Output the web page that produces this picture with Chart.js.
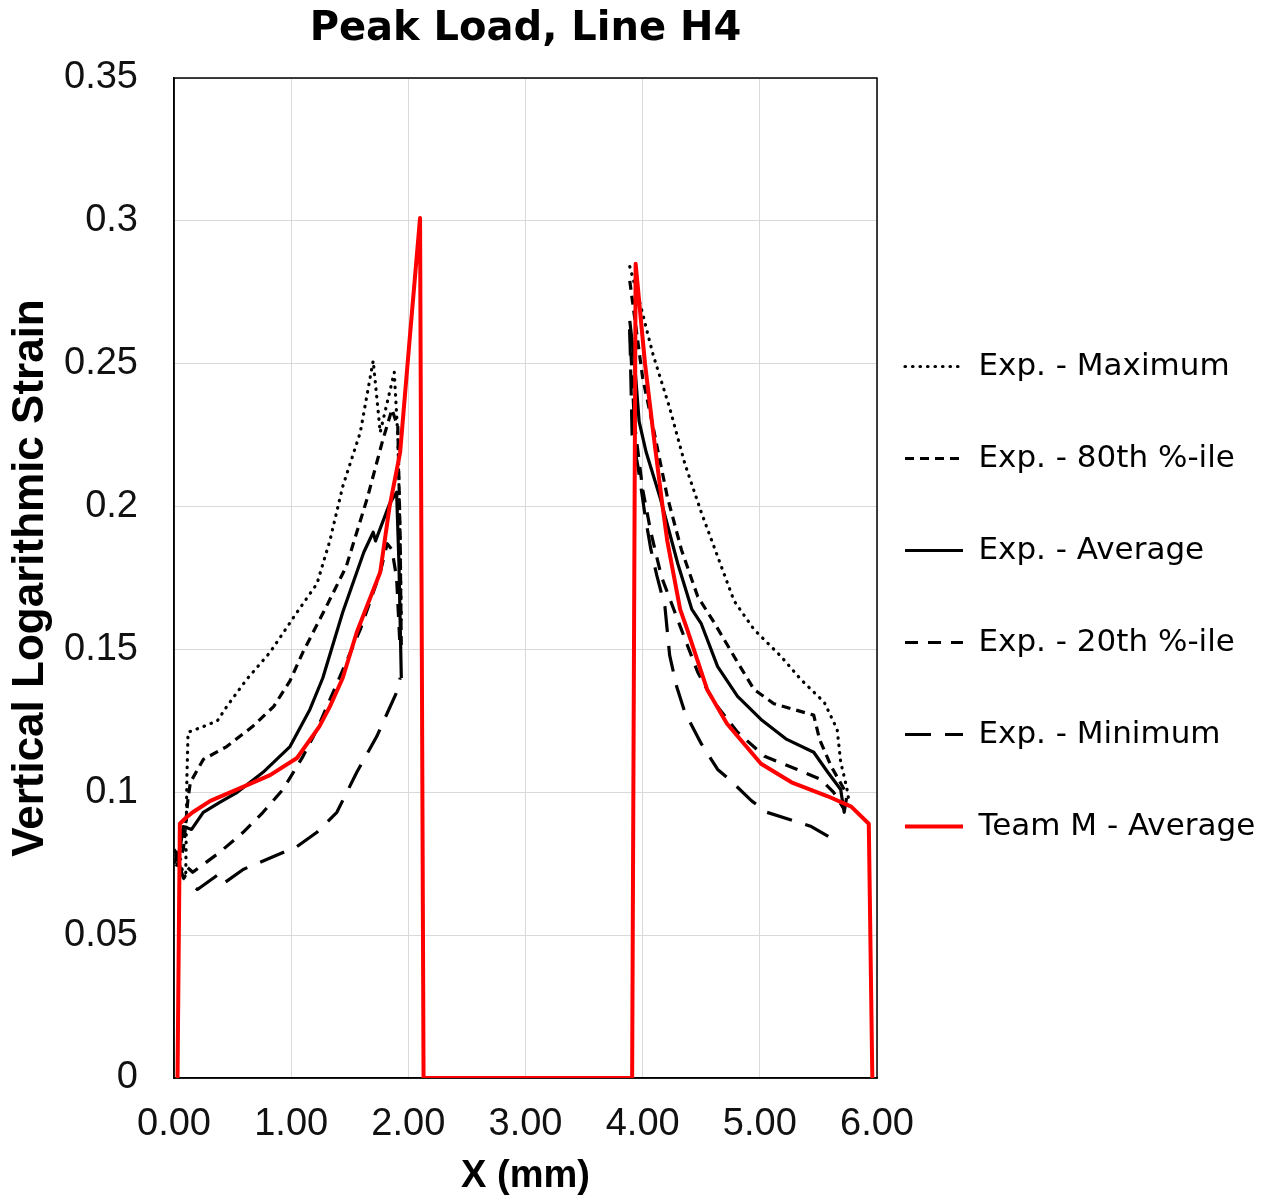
<!DOCTYPE html>
<html>
<head>
<meta charset="utf-8">
<style>
  html, body { margin: 0; padding: 0; background: #ffffff; }
  canvas { display: block; }
</style>
<script src="https://cdn.jsdelivr.net/npm/chart.js@4/dist/chart.umd.min.js"></script>
</head>
<body>
<canvas id="c" width="1266" height="1201"></canvas>
<script>
// ---- Data ----
const chartTitle = 'Peak Load, Line H4';
const xAxisTitle = 'X (mm)';
const yAxisTitle = 'Vertical Logarithmic Strain';
const xTickLabels = ['0.00', '1.00', '2.00', '3.00', '4.00', '5.00', '6.00'];
const yTickLabels = ['0', '0.05', '0.1', '0.15', '0.2', '0.25', '0.3', '0.35'];
const seriesNames = ['Exp. - Maximum', 'Exp. - 80th %-ile', 'Exp. - Average', 'Exp. - 20th %-ile', 'Exp. - Minimum', 'Team M - Average'];

// Exp. - Maximum (gap between the two sides marked by null)
const maxX = [0.02, 0.10, 0.11, 0.12, 0.25, 0.37, 0.45, 0.62, 0.82, 1.05, 1.22, 1.33, 1.44, 1.59, 1.70, 1.76, 1.88, 1.91, 1.93, 1.94,
              3.0,
              3.89, 3.98, 4.09, 4.23, 4.36, 4.50, 4.64, 4.78, 4.95, 5.18, 5.35, 5.55, 5.66, 5.69, 5.74, 5.76];
const maxY = [0.078, 0.070, 0.105, 0.121, 0.123, 0.125, 0.130, 0.1395, 0.149, 0.163, 0.173, 0.188, 0.207, 0.226, 0.251, 0.226, 0.247, 0.225, 0.19, 0.16,
              null,
              0.284, 0.2706, 0.253, 0.2346, 0.215, 0.198, 0.1825, 0.167, 0.157, 0.1476, 0.1395, 0.1315, 0.122, 0.1105, 0.102, 0.097];

// Exp. - 80th %-ile
const p80X = [0.02, 0.08, 0.12, 0.14, 0.25, 0.45, 0.67, 0.85, 0.99, 1.10, 1.30, 1.47, 1.65, 1.78, 1.86, 1.91, 1.93, 1.94,
              3.0,
              3.89, 4.00, 4.09, 4.21, 4.33, 4.47, 4.61, 4.81, 4.95, 5.12, 5.29, 5.46, 5.51, 5.61, 5.72];
const p80Y = [0.074, 0.080, 0.098, 0.1035, 0.1115, 0.116, 0.123, 0.130, 0.139, 0.149, 0.165, 0.179, 0.203, 0.223, 0.234, 0.228, 0.19, 0.15,
              null,
              0.279, 0.245, 0.2276, 0.2035, 0.185, 0.1685, 0.1594, 0.1455, 0.136, 0.131, 0.129, 0.127, 0.1185, 0.109, 0.101];

// Exp. - Average
const avgX = [0.00, 0.05, 0.08, 0.15, 0.25, 0.39, 0.54, 0.76, 0.99, 1.16, 1.27, 1.44, 1.62, 1.70, 1.72, 1.84, 1.90, 1.92, 1.94,
              3.0,
              3.89, 3.93, 3.97, 4.03, 4.15, 4.30, 4.42, 4.50, 4.64, 4.81, 5.01, 5.23, 5.46, 5.58, 5.69, 5.72, 5.74];
const avgY = [0.075, 0.080, 0.088, 0.087, 0.093, 0.0965, 0.100, 0.107, 0.116, 0.129, 0.140, 0.163, 0.184, 0.191, 0.188, 0.201, 0.205, 0.18, 0.14,
              null,
              0.265, 0.2507, 0.2297, 0.219, 0.203, 0.180, 0.164, 0.159, 0.144, 0.1336, 0.1255, 0.1185, 0.114, 0.107, 0.101, 0.093, 0.098];

// Exp. - 20th %-ile
const p20X = [0.00, 0.08, 0.16, 0.39, 0.59, 0.76, 0.93, 1.10, 1.22, 1.39, 1.59, 1.76, 1.82, 1.86, 1.90, 1.93,
              3.0,
              3.89, 3.93, 4.00, 4.07, 4.16, 4.33, 4.47, 4.61, 4.81, 5.04, 5.32, 5.52, 5.63, 5.72];
const p20Y = [0.080, 0.075, 0.072, 0.079, 0.086, 0.093, 0.101, 0.1125, 0.122, 0.138, 0.157, 0.177, 0.187, 0.185, 0.175, 0.15,
              null,
              0.262, 0.229, 0.206, 0.191, 0.1755, 0.157, 0.142, 0.1315, 0.121, 0.1126, 0.108, 0.1045, 0.100, 0.094];

// Exp. - Minimum
const minX = [0.02, 0.08, 0.20, 0.37, 0.42, 0.59, 0.82, 1.05, 1.22, 1.39, 1.56, 1.73, 1.90, 1.93,
              3.0,
              3.89, 3.91, 3.96, 4.02, 4.07, 4.12, 4.19, 4.23, 4.29, 4.36, 4.50, 4.64, 4.74, 4.93, 5.06, 5.29, 5.44, 5.65];
const minY = [0.078, 0.070, 0.066, 0.071, 0.068, 0.073, 0.077, 0.081, 0.086, 0.093, 0.107, 0.1195, 0.135, 0.14,
              null,
              0.262, 0.225, 0.214, 0.197, 0.185, 0.176, 0.165, 0.148, 0.137, 0.128, 0.117, 0.108, 0.1045, 0.097, 0.093, 0.090, 0.088, 0.083];

// Team M - Average
const teamX = [0.03, 0.05, 0.10, 0.16, 0.31, 0.54, 0.82, 1.05, 1.24, 1.33, 1.44, 1.56, 1.76, 1.84, 1.93, 2.01, 2.10, 2.13,
               3.91, 3.94, 4.02, 4.09, 4.17, 4.21, 4.32, 4.38, 4.55, 4.72, 5.01, 5.27, 5.58, 5.78, 5.93, 5.96];
const teamY = [0, 0.089, 0.091, 0.093, 0.097, 0.101, 0.106, 0.112, 0.123, 0.130, 0.140, 0.156, 0.177, 0.200, 0.219, 0.258, 0.301, 0,
               0, 0.285, 0.250, 0.226, 0.200, 0.188, 0.164, 0.157, 0.136, 0.124, 0.110, 0.1035, 0.0986, 0.095, 0.089, 0];

// ---- Build chart ----
const pts = (xs, ys) => xs.map((x, i) => ({ x: x, y: ys[i] }));

const tickFont = { family: "'Liberation Sans', Arial, sans-serif", size: 38 };

const plotBorder = {
  id: 'plotBorder',
  beforeDatasetsDraw(chart) {
    const a = chart.chartArea, ctx = chart.ctx;
    ctx.save();
    ctx.strokeStyle = '#000';
    ctx.lineWidth = 1.5;
    ctx.strokeRect(a.left, a.top, a.right - a.left, a.bottom - a.top);
    ctx.restore();
  }
};

// keep the legend column at a fixed width so the plot area matches the reference
const legendWidthFix = {
  id: 'legendWidthFix',
  beforeLayout(chart) {
    const lg = chart.legend;
    if (lg && !lg._widthPatched) {
      const orig = lg.fit.bind(lg);
      lg.fit = function () { orig(); this.width = 389; };
      lg._widthPatched = true;
    }
  }
};

function ds(label, xs, ys, color, width, dash, cap, order) {
  return {
    label: label,
    data: pts(xs, ys),
    borderColor: color,
    backgroundColor: color,
    borderWidth: width,
    borderDash: dash,
    borderCapStyle: cap,
    borderJoinStyle: 'round',
    pointRadius: 0,
    pointHoverRadius: 0,
    showLine: true,
    fill: false,
    tension: 0,
    spanGaps: false,
    order: order
  };
}

new Chart(document.getElementById('c'), {
  type: 'scatter',
  data: {
    datasets: [
      ds(seriesNames[0], maxX, maxY, '#000000', 3.2, [0.5, 7], 'round', 1),
      ds(seriesNames[1], p80X, p80Y, '#000000', 3.2, [9, 6], 'butt', 1),
      ds(seriesNames[2], avgX, avgY, '#000000', 3.2, [], 'butt', 1),
      ds(seriesNames[3], p20X, p20Y, '#000000', 3.2, [13, 10], 'butt', 1),
      ds(seriesNames[4], minX, minY, '#000000', 3.2, [26, 14], 'butt', 1),
      ds(seriesNames[5], teamX, teamY, '#ff0000', 4, [], 'butt', 0)
    ]
  },
  options: {
    responsive: false,
    animation: false,
    devicePixelRatio: 1,
    layout: { padding: { left: 0, right: 0, top: 0, bottom: 0 } },
    scales: {
      x: {
        type: 'linear',
        min: 0, max: 6,
        ticks: {
          stepSize: 1,
          padding: 24,
          color: '#111',
          font: tickFont,
          maxRotation: 0,
          callback: (v, i) => xTickLabels[i]
        },
        grid: { color: '#d9d9d9', lineWidth: 1, drawTicks: false },
        border: { display: true, color: '#000', width: 1.5 },
        title: {
          display: true,
          text: xAxisTitle,
          color: '#000',
          font: { family: "'Liberation Sans', Arial, sans-serif", size: 38, weight: 'bold' },
          padding: { top: 0, bottom: 1.5 }
        },
        afterFit: (s) => { s.height = 123; }
      },
      y: {
        type: 'linear',
        min: 0, max: 0.35,
        ticks: {
          stepSize: 0.05,
          padding: 36,
          color: '#111',
          font: tickFont,
          callback: (v, i) => yTickLabels[i]
        },
        grid: { color: '#d9d9d9', lineWidth: 1, drawTicks: false },
        border: { display: true, color: '#000', width: 1.5 },
        title: {
          display: true,
          text: yAxisTitle,
          color: '#000',
          font: { family: "'Liberation Sans', Arial, sans-serif", size: 44, weight: 'bold' },
          padding: { top: 4, bottom: 0 }
        },
        afterFit: (s) => { s.width = 174; }
      }
    },
    plugins: {
      title: {
        display: true,
        text: chartTitle,
        color: '#000',
        fullSize: false,
        font: { family: "'DejaVu Sans', Verdana, sans-serif", size: 40, weight: 'bold', lineHeight: 1.2 },
        padding: { top: 6, bottom: 24 }
      },
      legend: {
        display: true,
        position: 'right',
        align: 'center',
        title: { display: true, text: '', font: { size: 10, lineHeight: 1 }, padding: { top: 15, bottom: 0 } },
        labels: {
          color: '#000',
          font: { family: "'DejaVu Sans', Verdana, sans-serif", size: 31, lineHeight: 64 / 31 },
          usePointStyle: true,
          pointStyle: 'line',
          pointStyleWidth: 58,
          padding: 28,
          sort: (a, b) => a.datasetIndex - b.datasetIndex,
          generateLabels: (chart) => {
            const items = Chart.defaults.plugins.legend.labels.generateLabels(chart);
            items.forEach(it => {
              const d = chart.data.datasets[it.datasetIndex];
              it.text = [it.text];
              it.lineDash = d.borderDash;
              it.lineWidth = d.borderWidth;
              it.lineCap = d.borderCapStyle;
              it.strokeStyle = d.borderColor;
            });
            return items;
          }
        }
      },
      tooltip: { enabled: false }
    }
  },
  plugins: [plotBorder, legendWidthFix]
});
</script>
</body>
</html>
